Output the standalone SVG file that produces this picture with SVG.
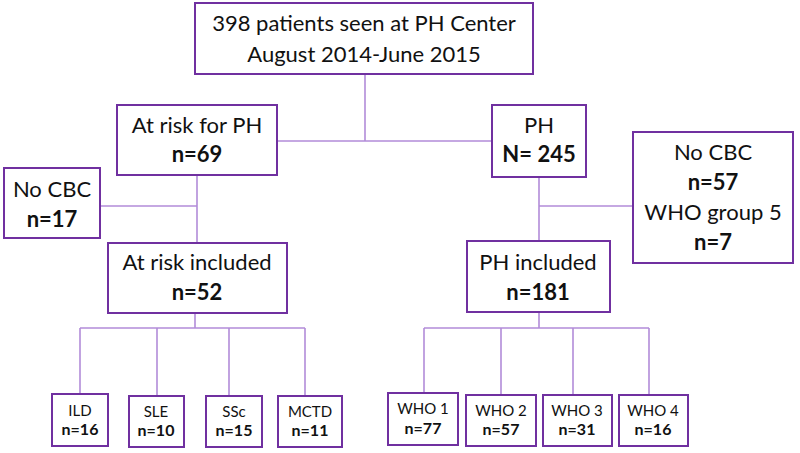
<svg xmlns="http://www.w3.org/2000/svg" width="800" height="453" viewBox="0 0 800 453">
<style>
.box{fill:#fff;stroke:#7030A0;stroke-width:2}
.con{fill:none;stroke:#B28CD9;stroke-width:1.6}
text{font-family:Lato,"Open Sans",sans-serif;fill:#111;text-anchor:middle}
.l{font-size:22px}
.b{font-size:22px;font-weight:bold}
.s{font-size:15px}
.sb{font-size:16px;font-weight:bold}
</style>
<rect width="800" height="453" fill="#fff"/>
<g id="connectors">
<path class="con" d="M365 74V141M277 141H492"/>
<path class="con" d="M197 175V243M100 206H197"/>
<path class="con" d="M539 177V241M539 206H633"/>
<path class="con" d="M195 313V328M80 328H305M80 328V394M157 328V396M229 328V396M305 328V396"/>
<path class="con" d="M539 312V328M424 328H649M424 328V393M501 328V395M573 328V395M649 328V395"/>
</g>
<g id="top"><rect class="box" x="195" y="3" width="338" height="71"/><text class="l" x="364" y="31">398 patients seen at PH Center</text><text class="l" x="364" y="62">August 2014-June 2015</text></g>
<g id="atrisk"><rect class="box" x="117" y="105" width="160" height="70"/><text class="l" x="197" y="133">At risk for PH</text><text class="b" x="197" y="162">n=69</text></g>
<g id="ph"><rect class="box" x="492" y="105" width="94" height="72"/><text class="l" x="539" y="133">PH</text><text class="b" x="539" y="162">N= 245</text></g>
<g id="nocbc1"><rect class="box" x="4" y="168" width="96" height="70"/><text class="l" x="52" y="197">No CBC</text><text class="b" x="52" y="227">n=17</text></g>
<g id="nocbc2"><rect class="box" x="633" y="132" width="160" height="131"/><text class="l" x="713" y="160">No CBC</text><text class="b" x="713" y="190">n=57</text><text class="l" x="713" y="220">WHO group 5</text><text class="b" x="713" y="250">n=7</text></g>
<g id="atriskinc"><rect class="box" x="108" y="243" width="179" height="70"/><text class="l" x="197" y="270">At risk included</text><text class="b" x="197" y="300">n=52</text></g>
<g id="phinc"><rect class="box" x="467" y="241" width="143" height="71"/><text class="l" x="538" y="270">PH included</text><text class="b" x="538" y="300">n=181</text></g>
<g id="ild"><rect class="box" x="52" y="394" width="56" height="52"/><text class="s" x="80" y="416">ILD</text><text class="sb" x="80" y="435">n=16</text></g>
<g id="sle"><rect class="box" x="129" y="396" width="55" height="51"/><text class="s" x="156" y="417">SLE</text><text class="sb" x="156" y="436">n=10</text></g>
<g id="ssc"><rect class="box" x="206" y="396" width="56" height="51"/><text class="s" x="234" y="417">SSc</text><text class="sb" x="234" y="436">n=15</text></g>
<g id="mctd"><rect class="box" x="278" y="396" width="64" height="51"/><text class="s" x="310" y="417">MCTD</text><text class="sb" x="310" y="436">n=11</text></g>
<g id="who1"><rect class="box" x="388" y="393" width="70" height="52"/><text class="s" x="423" y="414">WHO 1</text><text class="sb" x="423" y="434">n=77</text></g>
<g id="who2"><rect class="box" x="466" y="395" width="70" height="51"/><text class="s" x="501" y="416">WHO 2</text><text class="sb" x="501" y="435">n=57</text></g>
<g id="who3"><rect class="box" x="543" y="395" width="69" height="51"/><text class="s" x="577" y="416">WHO 3</text><text class="sb" x="577" y="435">n=31</text></g>
<g id="who4"><rect class="box" x="619" y="395" width="69" height="51"/><text class="s" x="653" y="416">WHO 4</text><text class="sb" x="653" y="435">n=16</text></g>
</svg>
